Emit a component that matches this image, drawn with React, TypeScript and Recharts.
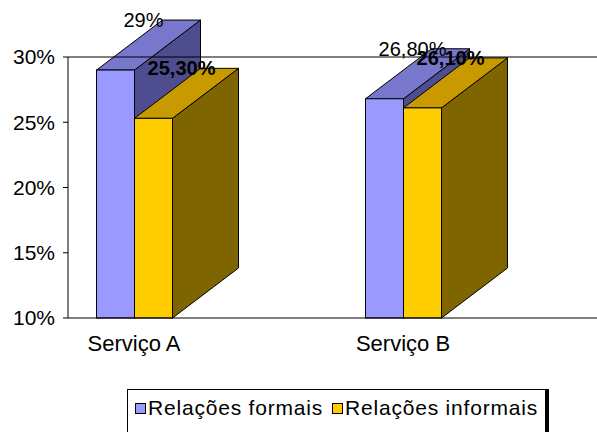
import React from "react";
import {
  Bar,
  BarChart,
  LabelList,
  Legend,
  ReferenceLine,
  XAxis,
  YAxis,
} from "recharts";

const categories = ["Serviço A", "Serviço B"];
const formais = [29, 26.8];
const informais = [25.3, 26.1];
const yTicks = [10, 15, 20, 25, 30];

const data = categories.map((name, i) => ({
  name,
  formais: formais[i],
  informais: informais[i],
}));

const FONT = "'Liberation Sans', Arial, sans-serif";
const DX = 66;
const DY = 50;

const BLUE = { front: "#9999FF", top: "#7777CC", side: "#4D4D8F" };
const GOLD = { front: "#FFCC00", top: "#C99A00", side: "#7F6500" };

const fmt = (v: number) =>
  Number.isInteger(v) ? `${v}%` : `${v.toFixed(2).replace(".", ",")}%`;

// box with a top and right face to fake the 3d column
const Column3D = (props: any) => {
  const { x, y, width, height, colors } = props;
  const base = y + height;
  const r = x + width;
  const topFace = `${x},${y} ${r},${y} ${r + DX},${y - DY} ${x + DX},${y - DY}`;
  const sideFace = `${r},${y} ${r + DX},${y - DY} ${r + DX},${base - DY} ${r},${base}`;
  return (
    <g stroke="#000" strokeWidth={1}>
      <polygon points={sideFace} fill={colors.side} />
      <polygon points={topFace} fill={colors.top} />
      <rect x={x} y={y} width={width} height={height} fill={colors.front} />
    </g>
  );
};

const valueLabel = (bold: boolean) => (p: any) => {
  const { x, y, width, value } = p;
  return (
    <text
      x={x + width / 2 + 28}
      y={y - DY}
      textAnchor="middle"
      dominantBaseline="central"
      fontFamily={FONT}
      fontSize={20}
      fontWeight={bold ? "bold" : "normal"}
      fill="#000"
    >
      {fmt(value)}
    </text>
  );
};

const LegendBox = () => {
  const item = (left: number, color: string, label: string) => (
    <>
      <div
        style={{
          position: "absolute",
          left,
          top: 13,
          width: 9,
          height: 9,
          background: color,
          border: "1px solid #000",
        }}
      />
      <div
        style={{
          position: "absolute",
          left: left + 13,
          top: 7,
          lineHeight: "21px",
          fontSize: 21,
          letterSpacing: 0.8,
          whiteSpace: "nowrap",
          color: "#000",
        }}
      >
        {label}
      </div>
    </>
  );
  return (
    <div
      style={{
        position: "relative",
        width: 417,
        height: 70,
        border: "1px solid #000",
        boxShadow: "3px 0 0 #000",
        background: "#fff",
        fontFamily: FONT,
      }}
    >
      {item(7, BLUE.front, "Relações formais")}
      {item(204, GOLD.front, "Relações informais")}
    </div>
  );
};

export default function App() {
  return (
    <div
      style={{
        position: "absolute",
        left: 0,
        top: 0,
        width: 597,
        height: 432,
        overflow: "hidden",
        background: "#fff",
      }}
    >
      <BarChart
        width={597}
        height={432}
        data={data}
        margin={{ top: 57, right: 0, bottom: 0, left: 0 }}
        barGap={0}
        barSize={38}
      >
        <XAxis
          dataKey="name"
          height={114}
          padding={{ left: -68.5, right: 59.5 }}
          axisLine={{ stroke: "#000" }}
          tickLine={false}
          tickSize={0}
          tickMargin={17}
          tick={{ fontFamily: FONT, fontSize: 22, fill: "#000" }}
        />
        <YAxis
          width={68}
          domain={[10, 30]}
          ticks={yTicks}
          tickFormatter={(v: number) => `${v}%`}
          axisLine={{ stroke: "#000" }}
          tickLine={{ stroke: "#000" }}
          tickSize={5}
          tickMargin={8}
          tick={{ fontFamily: FONT, fontSize: 21, fill: "#000" }}
        />
        <ReferenceLine y={30} stroke="#000" />
        <Legend
          layout="horizontal"
          verticalAlign="middle"
          content={() => <LegendBox />}
          wrapperStyle={{ left: 127, top: 389, width: 420 }}
        />
        <Bar
          dataKey="formais"
          name="Relações formais"
          fill={BLUE.front}
          isAnimationActive={false}
          shape={(p: any) => <Column3D {...p} colors={BLUE} />}
        >
          <LabelList dataKey="formais" content={valueLabel(false)} />
        </Bar>
        <Bar
          dataKey="informais"
          name="Relações informais"
          fill={GOLD.front}
          isAnimationActive={false}
          shape={(p: any) => <Column3D {...p} colors={GOLD} />}
        >
          <LabelList dataKey="informais" content={valueLabel(true)} />
        </Bar>
      </BarChart>
    </div>
  );
}
